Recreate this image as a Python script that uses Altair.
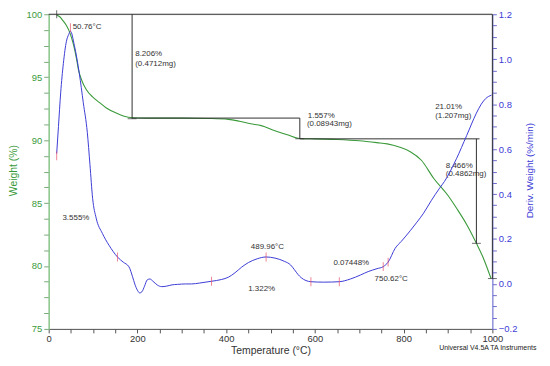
import altair as alt
import pandas as pd

# ---------------- data ----------------
weight_temp = [18, 25, 32, 40, 48, 55, 62, 67, 75, 85, 100, 114, 130, 152, 170, 188,
               220, 300, 360, 405, 430, 455, 479, 510, 540, 562, 600, 650, 700, 740,
               763, 790, 815, 840, 868, 900, 919, 942, 964, 980, 997]
weight_pct = [99.95, 99.8, 99.5, 99.1, 98.5, 97.7, 96.6, 95.6, 94.7, 94.0, 93.4, 93.0,
              92.55, 92.15, 91.9, 91.78, 91.75, 91.75, 91.72, 91.65, 91.5, 91.3, 91.15,
              90.75, 90.4, 90.15, 90.1, 90.05, 89.95, 89.8, 89.7, 89.45, 89.08, 88.4,
              86.95, 85.6, 84.6, 83.3, 81.8, 80.6, 79.0]

deriv_temp = [18, 22, 27, 33, 40, 45, 49, 58, 69, 78, 87, 93, 99, 107, 121, 136,
              155, 168, 181, 189, 194, 200, 205, 210, 216, 222, 228, 235, 245,
              255, 265, 278, 290, 308, 322, 340, 367, 390, 405, 420, 435, 450, 470,
              490, 510, 532, 545, 554, 562, 569, 580, 591, 620, 655, 680, 703, 720,
              740, 754, 765, 781, 795, 815, 830, 845, 862, 881, 892, 919, 942, 964,
              975, 985, 998]
deriv_val = [0.58, 0.70, 0.85, 0.98, 1.08, 1.11, 1.125, 1.06, 0.937, 0.806, 0.675,
             0.531, 0.381, 0.293, 0.225, 0.172, 0.12, 0.097, 0.076, 0.032, 0.0,
             -0.028, -0.04, -0.035, -0.01, 0.018, 0.022, 0.012, -0.005, -0.012, -0.01,
             -0.004, -0.002, 0.0, 0.0, 0.004, 0.012, 0.02, 0.03, 0.05, 0.075, 0.095,
             0.112, 0.12, 0.115, 0.10, 0.085, 0.063, 0.042, 0.028, 0.015, 0.01, 0.008,
             0.01, 0.022, 0.04, 0.055, 0.068, 0.077, 0.097, 0.159, 0.19, 0.237, 0.275,
             0.315, 0.37, 0.426, 0.456, 0.557, 0.66, 0.76, 0.80, 0.825, 0.84]

# red peak / limit markers on the derivative curve
marker_temp = [18, 49, 155, 367, 490, 591, 655, 754, 765]
marker_val = [0.57, 1.14, 0.12, 0.012, 0.12, 0.01, 0.01, 0.077, 0.097]

# step analysis lines (weight scale)
vline_temp = [188, 566, 964, 1000]
vline_top = [100, 91.75, 90.1, 100]
vline_bottom = [91.7, 90.1, 81.8, 79.0]
hline_start = [0, 188, 566]
hline_end = [1000, 566, 971]
hline_level = [100, 91.75, 90.1]

# annotation texts (left aligned)
left_labels = ["50.76°C", "8.206%", "(0.4712mg)", "1.557%", "(0.08943mg)",
               "21.01%", "(1.207mg)", "8.466%", "(0.4862mg)", "3.555%"]
left_temp = [54, 195, 195, 584, 582, 871, 871, 895, 895, 31]
left_level = [98.98, 96.88, 96.07, 91.95, 91.25, 92.62, 91.9, 87.98, 87.28, 83.85]

# annotation texts (centred)
center_labels = ["489.96°C", "1.322%", "0.07448%", "750.62°C"]
center_temp = [493, 480, 682, 772]
center_level = [81.48, 78.16, 80.21, 79.0]

GREEN = "#3a9a3a"
BLUE = "#3c3cd6"
TXT = "#333333"
FONT = "Liberation Sans"
PLOT_W, PLOT_H = 447, 317

weight_df = pd.DataFrame({"T": weight_temp, "w": weight_pct})
deriv_df = pd.DataFrame({"T": deriv_temp, "d": deriv_val})
marker_df = pd.DataFrame({"T": marker_temp, "d": marker_val})
vline_df = pd.DataFrame({"T": vline_temp, "w": vline_top, "w2": vline_bottom})
vtick_df = pd.DataFrame({"T": vline_temp, "w": vline_bottom})
hline_df = pd.DataFrame({"T": hline_start, "T2": hline_end, "w": hline_level})
start_df = pd.DataFrame({"T": [18], "w": [100]})
left_df = pd.DataFrame({"T": left_temp, "w": left_level, "label": left_labels})
center_df = pd.DataFrame({"T": center_temp, "w": center_level, "label": center_labels})
credit_df = pd.DataFrame({"T": [880], "w": [73.5], "label": ["Universal V4.5A TA Instruments"]})

x_scale = alt.Scale(domain=[0, 1000], nice=False, zero=False)
x_axis = alt.Axis(
    values=list(range(0, 1001, 50)),
    labelExpr="datum.value % 200 == 0 ? datum.label : ''",
    format="d", labelFlush=False, labelOverlap=False,
    tickSize=4, labelPadding=1, tickColor="#555555", domainColor="#555555",
    labelColor=TXT, labelFont=FONT, labelFontSize=9.5, grid=False,
    title="Temperature (°C)", titleFont=FONT, titleFontSize=10.5,
    titleFontWeight="normal", titleColor=TXT, titleX=PLOT_W / 2, titleY=22,
    titleBaseline="middle", titleAlign="center",
)


def xe(field="T"):
    return alt.X(field, type="quantitative", scale=x_scale, axis=x_axis)


w_scale = alt.Scale(domain=[75, 100], nice=False, zero=False)
w_axis = alt.Axis(
    orient="left",
    values=[75 + 1.25 * i for i in range(21)],
    labelExpr="datum.value % 5 == 0 ? datum.label : ''",
    format="d", labelOverlap=False, labelFlush=False,
    tickSize=5, labelPadding=2, tickColor="#7aa87a", domainColor="#8cc88c", domainWidth=1.5,
    labelColor=GREEN, labelFont=FONT, labelFontSize=9.5, grid=False,
    title="Weight (%)", titleFont=FONT, titleFontSize=10.5, titleFontWeight="normal",
    titleColor=GREEN, titleX=-35, titleY=157, titleAngle=270,
    titleAlign="center", titleBaseline="middle",
)


def we(field="w"):
    return alt.Y(field, type="quantitative", scale=w_scale, axis=w_axis)


d_scale = alt.Scale(domain=[-0.2, 1.2], nice=False, zero=False)
d_axis = alt.Axis(
    orient="right",
    values=[round(-0.2 + 0.05 * i, 2) for i in range(29)],
    labelExpr="abs(round(datum.value*5) - datum.value*5) < 0.001 ? format(datum.value, '.1f') : ''",
    labelOverlap=False, labelFlush=False,
    tickSize=4, labelPadding=2, tickColor="#6a6ad0", domainColor="#6a6ad8",
    labelColor=BLUE, labelFont=FONT, labelFontSize=9.5, grid=False,
    title="Deriv. Weight (%/min)", titleFont=FONT, titleFontSize=10, titleFontWeight="normal",
    titleColor=BLUE, titleX=37, titleY=157, titleAngle=270,
    titleAlign="center", titleBaseline="middle",
)


def de(field="d"):
    return alt.Y(field, type="quantitative", scale=d_scale, axis=d_axis)


green_line = alt.Chart(weight_df).mark_line(
    color=GREEN, strokeWidth=1.1, interpolate="monotone"
).encode(x=xe(), y=we())

hlines = alt.Chart(hline_df).mark_rule(color="#303030", strokeWidth=1).encode(
    x=xe(), x2=alt.X2("T2"), y=we())
vlines = alt.Chart(vline_df).mark_rule(color="#303030", strokeWidth=1).encode(
    x=xe(), y=we(), y2=alt.Y2("w2"))
vticks = alt.Chart(vtick_df).mark_tick(
    orient="horizontal", color="#303030", size=9, thickness=1
).encode(x=xe(), y=we())
start_tick = alt.Chart(start_df).mark_tick(
    orient="vertical", color="#303030", size=8, thickness=1
).encode(x=xe(), y=we())

left_text = alt.Chart(left_df).mark_text(
    align="left", baseline="middle", font=FONT, fontSize=8, color=TXT
).encode(x=xe(), y=we(), text="label:N")
center_text = alt.Chart(center_df).mark_text(
    align="center", baseline="middle", font=FONT, fontSize=8, color=TXT
).encode(x=xe(), y=we(), text="label:N")
credit_text = alt.Chart(credit_df).mark_text(
    align="left", baseline="middle", font=FONT, fontSize=7, color="#222222"
).encode(x=xe(), y=we(), text="label:N")

weight_group = alt.layer(green_line, hlines, vlines, vticks, start_tick,
                         left_text, center_text, credit_text)

blue_line = alt.Chart(deriv_df).mark_line(
    color=BLUE, strokeWidth=1, interpolate="monotone"
).encode(x=xe(), y=de())
red_ticks = alt.Chart(marker_df).mark_tick(
    orient="vertical", color="#e8506a", size=9, thickness=1
).encode(x=xe(), y=de())

deriv_group = alt.layer(blue_line, red_ticks)

chart = alt.layer(weight_group, deriv_group).resolve_scale(
    y="independent"
).properties(
    width=PLOT_W, height=PLOT_H,
    autosize=alt.AutoSizeParams(type="none"),
    padding={"left": 41, "top": 5, "right": 50, "bottom": 26},
).configure_view(stroke=None).configure(background="white")

chart.save("out.html", embed_options={"renderer": "svg", "actions": False})
